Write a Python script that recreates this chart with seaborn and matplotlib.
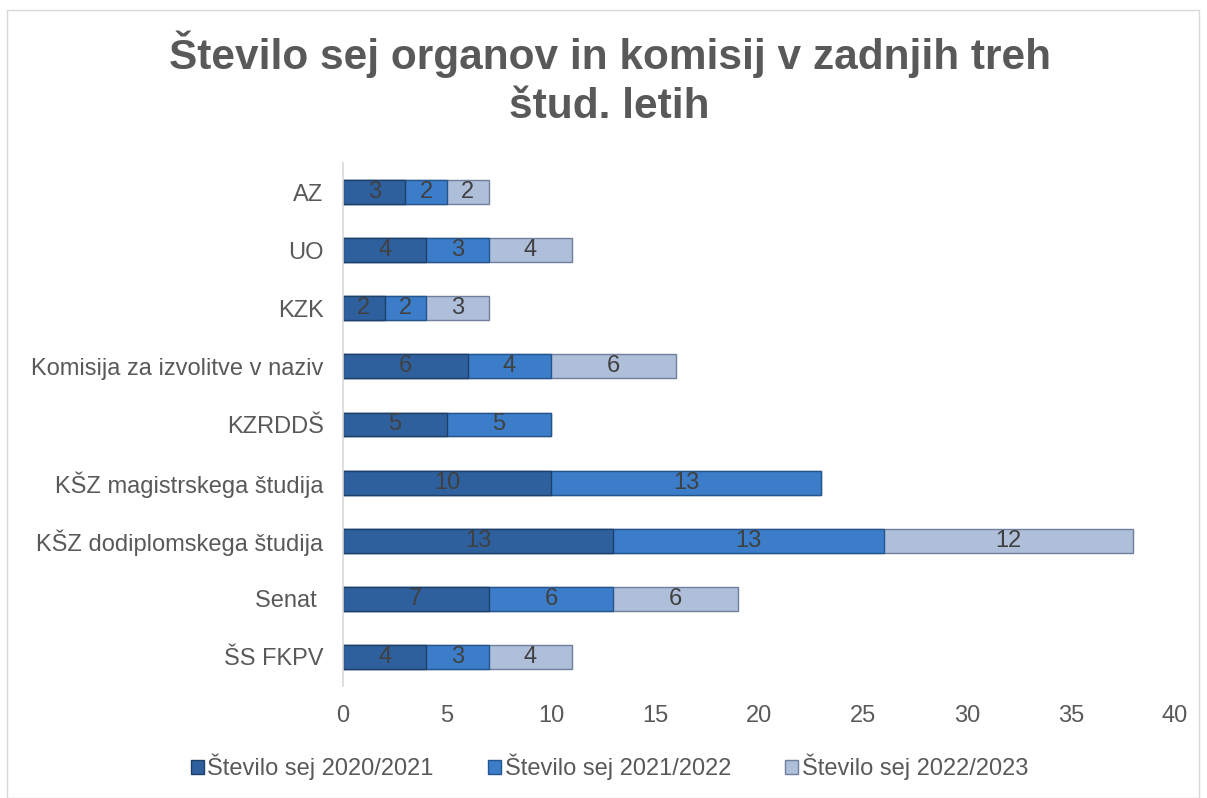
import numpy as np
import pandas as pd
import matplotlib
matplotlib.use("Agg")
import matplotlib.pyplot as plt
import seaborn as sns
from matplotlib.patches import Rectangle, Patch

categories = ["AZ", "UO", "KZK", "Komisija za izvolitve v naziv", "KZRDDŠ",
              "KŠZ magistrskega študija", "KŠZ dodiplomskega študija", "Senat ", "ŠS FKPV"]
s2020 = [3, 4, 2, 6, 5, 10, 13, 7, 4]
s2021 = [2, 3, 2, 4, 5, 13, 13, 6, 3]
s2022 = [2, 4, 3, 6, 0, 0, 12, 6, 4]
series_names = ["Število sej 2020/2021", "Število sej 2021/2022", "Število sej 2022/2023"]
colors = ["#2F609E", "#3B7DC8", "#AFBFDA"]
edges = ["#1E3F68", "#24558F", "#6F7F9C"]

sns.set_theme(style="white")
plt.rcParams["font.family"] = ["Liberation Sans", "DejaVu Sans"]

df = pd.DataFrame({"cat": categories, "a": s2020, "b": s2021, "c": s2022})
df["c1"] = df["a"]
df["c2"] = df["a"] + df["b"]
df["c3"] = df["a"] + df["b"] + df["c"]

fig = plt.figure(figsize=(12.07, 7.98), dpi=100)
ax = fig.add_axes([0.2842, 0.1404, 0.6893, 0.6553])

# draw cumulative totals, largest first, so they appear stacked
for col, c, e in [("c3", colors[2], edges[2]), ("c2", colors[1], edges[1]), ("c1", colors[0], edges[0])]:
    sns.barplot(data=df, y="cat", x=col, orient="h", color=c, width=0.41,
                edgecolor=e, linewidth=1.0, saturation=1, ax=ax)

# segment labels
seg_vals = [s2020, s2021, s2022]
starts = [np.zeros(len(categories)), np.array(s2020), np.array(s2020) + np.array(s2021)]
for vals, st in zip(seg_vals, starts):
    for i, (v, s0) in enumerate(zip(vals, st)):
        if v > 0:
            ax.text(s0 + v / 2, i, str(v), ha="center", va="center",
                    fontsize=17, color="#404040")

ax.set_xlim(0, 40)
ax.set_xticks(range(0, 41, 5))
ax.set_ylim(len(categories) - 0.5, -0.5)
ax.set_xlabel("")
ax.set_ylabel("")
ax.tick_params(axis="both", length=0, labelsize=17, labelcolor="#595959")
ax.tick_params(axis="y", pad=14)
ax.tick_params(axis="x", pad=14)
for side in ["top", "right", "bottom"]:
    ax.spines[side].set_visible(False)
ax.spines["left"].set_color("#D9D9D9")
ax.spines["left"].set_linewidth(1.2)

fig.text(0.505, 0.932, "Število sej organov in komisij v zadnjih treh", ha="center", va="center",
         fontsize=30.5, fontweight="bold", color="#595959")
fig.text(0.505, 0.866, "štud. letih", ha="center", va="center",
         fontsize=30.5, fontweight="bold", color="#595959")

handles = [Patch(facecolor=c, edgecolor=e) for c, e in zip(colors, edges)]
fig.legend(handles, series_names, loc="center", bbox_to_anchor=(0.505, 0.039), ncol=3,
           frameon=False, fontsize=17, labelcolor="#595959", handlelength=0.55,
           handleheight=0.55, handletextpad=0.15, columnspacing=2.3)

fig.patches.append(Rectangle((0.006, 0.0), 0.987, 0.988, transform=fig.transFigure,
                             fill=False, edgecolor="#D9D9D9", linewidth=1))

fig.savefig("out.png", dpi=100)
